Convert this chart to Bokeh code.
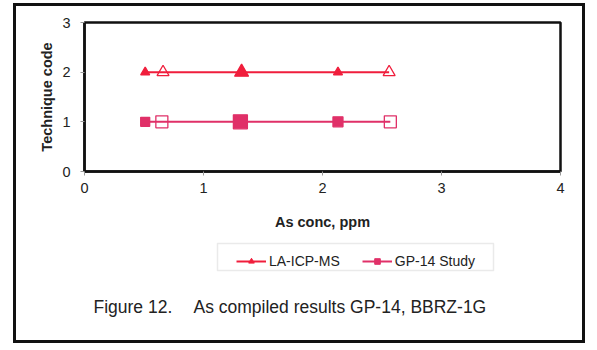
from bokeh.plotting import figure
from bokeh.layouts import column
from bokeh.models import Range1d, Legend, LegendItem, Label, BoxAnnotation, FixedTicker
from bokeh.embed import file_html
from bokeh.resources import INLINE

# data
la_x = [0.51, 0.66, 1.32, 2.13, 2.56]
la_y = [2, 2, 2, 2, 2]
gp_x = [0.51, 0.65, 1.31, 2.13, 2.57]
gp_y = [1, 1, 1, 1, 1]
x_ticks = [0, 1, 2, 3, 4]
y_ticks = [0, 1, 2, 3]
series_names = ["LA-ICP-MS", "GP-14 Study"]
x_title = "As conc, ppm"
y_title = "Technique code"
caption_a = "Figure 12."
caption_b = "As compiled results GP-14, BBRZ-1G"

# styles
la_color = "#f01e3c"
gp_color = "#e03068"
la_sizes = [9, 12, 14, 9, 12]
la_fill = [1, 0, 1, 1, 0]
gp_sizes = [9, 12, 14, 10, 12]
gp_fill = [1, 0, 1, 1, 0]

FONT = "Liberation Sans"
TXT = "#222222"

# ---------------- main chart ----------------
p = figure(width=566, height=226, output_backend="svg", toolbar_location=None,
           x_range=Range1d(0, 4), y_range=Range1d(0, 3),
           min_border_left=68, min_border_right=22, min_border_top=16, min_border_bottom=59)
p.background_fill_color = "white"
p.border_fill_color = "white"
p.grid.visible = False
p.outline_line_color = "#111111"
p.outline_line_width = 2.5

for ax in (p.xaxis, p.yaxis):
    ax.axis_line_color = "#111111"
    ax.axis_line_width = 2.5
    ax.major_tick_line_color = "#999999"
    ax.major_tick_in = 0
    ax.major_tick_out = 4
    ax.minor_tick_line_color = None
    ax.major_label_text_font = FONT
    ax.major_label_text_font_size = "14.5px"
    ax.major_label_text_color = TXT
    ax.axis_label_text_font = FONT
    ax.axis_label_text_font_style = "bold"
    ax.axis_label_text_font_size = "14.5px"
    ax.axis_label_text_color = TXT

p.xaxis.ticker = FixedTicker(ticks=x_ticks)
p.yaxis.ticker = FixedTicker(ticks=y_ticks)
p.xaxis.axis_label = x_title
p.yaxis.axis_label = y_title
p.xaxis.major_label_standoff = 7
p.xaxis.axis_label_standoff = 18
p.yaxis.major_label_standoff = 10
p.yaxis.axis_label_standoff = 4

p.line(la_x, la_y, line_color=la_color, line_width=2)
p.line(gp_x, gp_y, line_color=gp_color, line_width=2)
p.scatter(x=la_x, y=la_y, size=la_sizes, marker="triangle",
          fill_color=la_color, fill_alpha=la_fill, line_color=la_color, line_width=1.3)
p.scatter(x=gp_x, y=gp_y, size=gp_sizes, marker="square",
          fill_color=gp_color, fill_alpha=gp_fill, line_color=gp_color, line_width=1.3)

# ---------------- legend + caption area (frame aligned with main chart) ----------------
q = figure(width=566, height=108, output_backend="svg", toolbar_location=None,
           x_range=Range1d(0, 476), y_range=Range1d(0, 108),
           x_axis_location=None, y_axis_location=None,
           min_border_left=68, min_border_right=22, min_border_top=0, min_border_bottom=0)
q.grid.visible = False
q.outline_line_color = None
q.background_fill_color = None
q.border_fill_color = None

la_l = q.line(la_x, la_y, line_color=la_color, line_width=2, visible=False)
gp_l = q.line(gp_x, gp_y, line_color=gp_color, line_width=2, visible=False)
la_m = q.scatter(x=la_x, y=la_y, size=8, marker="triangle",
                 fill_color=la_color, line_color=la_color, visible=False)
gp_m = q.scatter(x=gp_x, y=gp_y, size=8, marker="square",
                 fill_color=gp_color, line_color=gp_color, visible=False)

q.add_layout(BoxAnnotation(left=133, right=409, bottom=70, top=97,
                           left_units="screen", right_units="screen",
                           bottom_units="screen", top_units="screen",
                           fill_color="white", fill_alpha=1,
                           line_color="#b8b8b8", line_width=1.5))

legend = Legend(items=[LegendItem(label=series_names[0], renderers=[la_l, la_m]),
                       LegendItem(label=series_names[1], renderers=[gp_l, gp_m])],
                orientation="horizontal", location=(152, 70),
                label_text_font=FONT, label_text_font_size="14px", label_text_color=TXT,
                glyph_width=30, glyph_height=14, label_height=19, label_standoff=3,
                spacing=22, padding=4, margin=0,
                border_line_color=None, background_fill_alpha=0)
q.add_layout(legend)

q.add_layout(Label(x=9, y=34, x_units="screen", y_units="screen", text=caption_a,
                   text_font=FONT, text_font_size="17.5px", text_color=TXT,
                   text_baseline="middle"))
q.add_layout(Label(x=109, y=34, x_units="screen", y_units="screen", text=caption_b,
                   text_font=FONT, text_font_size="17.5px", text_color=TXT,
                   text_baseline="middle"))

inner = column(p, q, spacing=0)
inner.styles = {"background-color": "white"}
outer = column(inner, spacing=0)
outer.margin = (3, 12, 7, 13)
outer.styles = {"background-color": "#111111", "padding": "3px"}

open("out.html", "w").write(file_html(outer, INLINE))
